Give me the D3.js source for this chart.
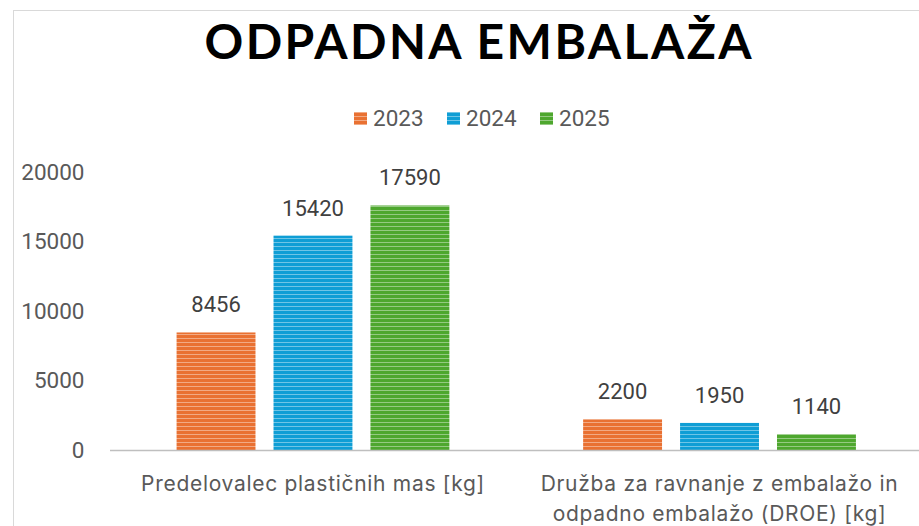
<!DOCTYPE html>
<html>
<head>
<meta charset="utf-8">
<script src="https://cdn.jsdelivr.net/npm/d3@7"></script>
<style>
  body { margin: 0; background: #fff; }
  svg { display: block; }
</style>
</head>
<body>
<div id="chart"></div>
<script>
const categories = [
    ['Predelovalec plastičnih mas [kg]'],
    ['Družba za ravnanje z embalažo in', 'odpadno embalažo (DROE) [kg]']
];
const years = ['2023', '2024', '2025'];
const values2023 = [8456, 2200];
const values2024 = [15420, 1950];
const values2025 = [17590, 1140];
const yTicks = [0, 5000, 10000, 15000, 20000];
const colors = ['#E97132', '#0F9ED5', '#4EA72E'];

const series = [values2023, values2024, values2025];
const data = categories.map((c, i) => ({
    key: i,
    label: c,
    values: years.map((y, j) => ({ year: y, value: series[j][i] }))
}));

const width = 919;
const height = 526;
const margin = { top: 172, right: -4, bottom: 76, left: 109.5 };

const svg = d3.select('#chart')
    .append('svg')
    .attr('width', width)
    .attr('height', height);

// outer frame of the chart area (cropped on right and bottom)
svg.append('rect')
    .attr('x', 13.5)
    .attr('y', 10.5)
    .attr('width', 1000)
    .attr('height', 1000)
    .attr('fill', '#fff')
    .attr('stroke', '#d9d9d9');

// striped fills
const defs = svg.append('defs');
colors.forEach((c, i) => {
    const p = defs.append('pattern')
        .attr('id', 'stripe' + i)
        .attr('patternUnits', 'userSpaceOnUse')
        .attr('width', 8)
        .attr('height', 4);
    p.append('rect').attr('width', 8).attr('height', 4).attr('fill', c);
    p.append('rect').attr('y', 2).attr('width', 8).attr('height', 1)
        .attr('fill', '#fff').attr('opacity', 0.4);
});

const x0 = d3.scaleBand()
    .domain(data.map(d => d.key))
    .range([margin.left, width - margin.right])
    .paddingInner(0.329)
    .paddingOuter(0.165);

const x1 = d3.scaleBand()
    .domain(years)
    .range([0, x0.bandwidth()])
    .paddingInner(0.186);

const yScale = d3.scaleLinear()
    .domain([0, 20000])
    .range([height - margin.bottom, margin.top]);

// title
svg.append('text')
    .attr('x', 478)
    .attr('y', 59)
    .attr('text-anchor', 'middle')
    .attr('textLength', 547)
    .attr('lengthAdjust', 'spacing')
    .style('font-family', 'Lato, sans-serif')
    .style('font-weight', 700)
    .style('font-size', '48px')
    .attr('fill', '#000')
    .text('ODPADNA EMBALAŽA');

// legend
const legend = svg.append('g').attr('transform', 'translate(354, 118)');
const item = legend.selectAll('g')
    .data(years)
    .enter()
    .append('g')
    .attr('transform', (d, i) => `translate(${i * 93}, 0)`);
item.append('rect')
    .attr('x', 0)
    .attr('y', -6)
    .attr('width', 13)
    .attr('height', 13)
    .attr('fill', (d, i) => `url(#stripe${i})`);
item.append('text')
    .attr('x', 19)
    .attr('dy', '0.36em')
    .style('font-family', 'Roboto, sans-serif')
    .style('font-size', '22.5px')
    .attr('fill', '#595959')
    .text(d => d);

// bars
const groups = svg.selectAll('g.group')
    .data(data)
    .enter()
    .append('g')
    .attr('class', 'group')
    .attr('transform', d => `translate(${x0(d.key)}, 0)`);

groups.selectAll('rect')
    .data(d => d.values)
    .enter()
    .append('rect')
    .attr('x', d => x1(d.year))
    .attr('y', d => yScale(d.value))
    .attr('width', x1.bandwidth())
    .attr('height', d => yScale(0) - yScale(d.value))
    .attr('fill', (d, i) => `url(#stripe${i})`);

groups.selectAll('text.val')
    .data(d => d.values)
    .enter()
    .append('text')
    .attr('class', 'val')
    .attr('x', d => x1(d.year) + x1.bandwidth() / 2)
    .attr('y', d => yScale(d.value) - 20)
    .attr('text-anchor', 'middle')
    .style('font-family', 'Roboto, sans-serif')
    .style('font-size', '22px')
    .attr('fill', '#404040')
    .text(d => d.value);

// y axis (labels only)
const yAxis = svg.append('g')
    .attr('class', 'y-axis')
    .attr('transform', `translate(${margin.left - 25}, 0)`)
    .call(d3.axisLeft(yScale).tickValues(yTicks).tickSize(0).tickPadding(0).tickFormat(d3.format('d')));
yAxis.select('.domain').remove();
yAxis.selectAll('text')
    .style('font-family', 'Roboto, sans-serif')
    .style('font-size', '22.5px')
    .attr('fill', '#595959');

// x axis
const xAxis = svg.append('g')
    .attr('class', 'x-axis')
    .attr('transform', `translate(0, ${yScale(0)})`)
    .call(d3.axisBottom(x0).tickSize(0).tickFormat(''));
xAxis.select('.domain')
    .attr('stroke', '#bfbfbf')
    .attr('stroke-width', 1.5);

const labels = svg.selectAll('text.cat')
    .data(data)
    .enter()
    .append('text')
    .attr('class', 'cat')
    .attr('x', d => x0(d.key) + x0.bandwidth() / 2)
    .attr('y', 491)
    .attr('text-anchor', 'middle')
    .style('font-family', 'Inter, sans-serif')
    .style('font-size', '21px')
    .style('letter-spacing', '0.7px')
    .attr('fill', '#595959');
labels.selectAll('tspan')
    .data(d => d.label)
    .enter()
    .append('tspan')
    .attr('x', function () { return d3.select(this.parentNode).attr('x'); })
    .attr('dy', (d, i) => i === 0 ? 0 : 30)
    .text(d => d);
</script>
</body>
</html>
